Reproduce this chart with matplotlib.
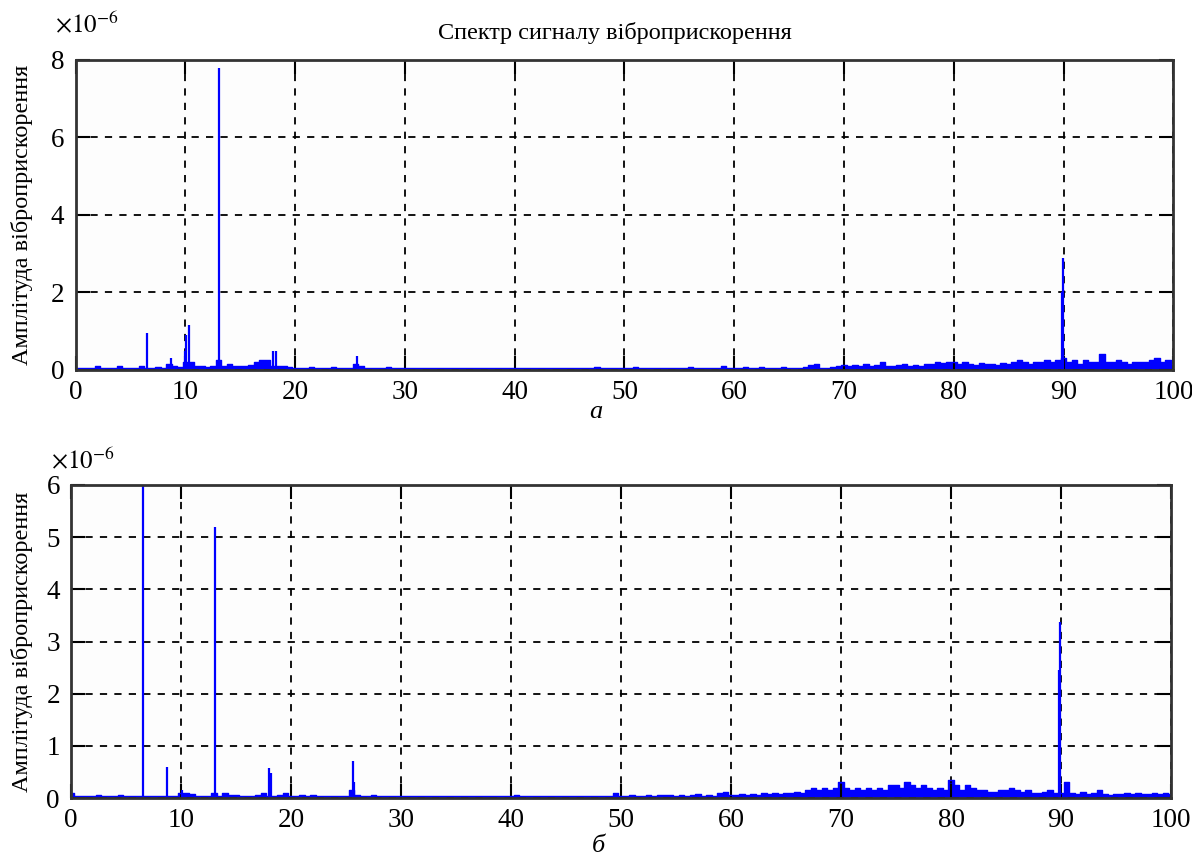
import numpy as np
import matplotlib
matplotlib.use("Agg")
import matplotlib.pyplot as plt

plt.rcParams['font.family'] = ['Liberation Serif', 'DejaVu Serif']
plt.rcParams['mathtext.fontset'] = 'stix'

# ------------------------------------------------------------
# data (amplitude in units of 1e-6), floor sampled every 0.5 Hz
# ------------------------------------------------------------
freq_grid = np.arange(0, 100.01, 0.5)

floor_a = (
    [0.05, 0.05, 0.05, 0.05, 0.1, 0.05, 0.05, 0.05, 0.1, 0.05, 0.05, 0.05]
    + [0.1, 0.05, 0.05, 0.08, 0.05, 0.15, 0.1, 0.08]
    + [0.2, 0.2, 0.1, 0.1, 0.08, 0.1, 0.25, 0.1, 0.15, 0.1]
    + [0.1, 0.1, 0.12, 0.2, 0.25, 0.25, 0.1, 0.1, 0.1, 0.08]
    + [0.05, 0.05, 0.05, 0.08, 0.05, 0.05, 0.05, 0.08, 0.05, 0.05]
    + [0.05, 0.15, 0.1, 0.05, 0.05, 0.05, 0.05, 0.08, 0.05, 0.05]
    + [0.05] * 20
    + [0.05] * 15 + [0.08] + [0.05] * 4
    + [0.05, 0.05, 0.08, 0.05, 0.05, 0.05, 0.05, 0.05, 0.05, 0.05,
       0.05, 0.05, 0.08, 0.05, 0.05, 0.05, 0.05, 0.05, 0.1, 0.05]
    + [0.05, 0.05, 0.08, 0.05, 0.05, 0.08, 0.05, 0.05, 0.05, 0.08,
       0.05, 0.05, 0.05, 0.08, 0.12, 0.15, 0.05, 0.05, 0.08, 0.1]
    + [0.12, 0.1, 0.12, 0.1, 0.15, 0.1, 0.12, 0.2, 0.1, 0.1,
       0.12, 0.15, 0.1, 0.12, 0.1, 0.15, 0.15, 0.2, 0.18, 0.2]
    + [0.2, 0.15, 0.2, 0.15, 0.12, 0.18, 0.15, 0.15, 0.12, 0.18,
       0.15, 0.2, 0.25, 0.2, 0.15, 0.2, 0.2, 0.25, 0.2, 0.25]
    + [0.3, 0.2, 0.25, 0.15, 0.25, 0.2, 0.2, 0.4, 0.2, 0.2, 0.25,
       0.2, 0.15, 0.2, 0.2, 0.2, 0.25, 0.3, 0.2, 0.25, 0.15]
)
peak_f_a = [6.5, 8.7, 10.0, 10.1, 10.35, 13.1, 18.0, 18.3, 25.6, 89.85, 89.95]
peak_v_a = [0.95, 0.3, 0.5, 0.9, 1.15, 7.8, 0.5, 0.5, 0.35, 2.0, 2.9]

floor_b = (
    [0.1, 0.03, 0.03, 0.03, 0.03, 0.05, 0.03, 0.03, 0.03, 0.05,
     0.03, 0.03, 0.03, 0.03, 0.03, 0.03, 0.03, 0.03, 0.03, 0.03]
    + [0.1, 0.1, 0.08, 0.03, 0.03, 0.03, 0.1, 0.03, 0.1, 0.05,
       0.05, 0.03, 0.03, 0.03, 0.05, 0.1, 0.03, 0.03, 0.05, 0.1]
    + [0.03, 0.03, 0.05, 0.03, 0.05, 0.03, 0.03, 0.03, 0.03, 0.03,
       0.03, 0.15, 0.05, 0.03, 0.03, 0.05, 0.03, 0.03, 0.03, 0.03]
    + [0.03] * 20
    + [0.03, 0.05] + [0.03] * 17 + [0.1]
    + [0.03, 0.03, 0.05, 0.03, 0.03, 0.05, 0.03, 0.05, 0.05, 0.05,
       0.03, 0.05, 0.03, 0.05, 0.08, 0.03, 0.05, 0.03, 0.1, 0.12]
    + [0.05, 0.05, 0.08, 0.05, 0.08, 0.05, 0.1, 0.08, 0.1, 0.08,
       0.1, 0.1, 0.12, 0.1, 0.15, 0.2, 0.15, 0.2, 0.15, 0.2]
    + [0.3, 0.2, 0.15, 0.2, 0.15, 0.2, 0.15, 0.2, 0.15, 0.25,
       0.25, 0.2, 0.3, 0.25, 0.2, 0.25, 0.2, 0.15, 0.2, 0.15]
    + [0.35, 0.25, 0.15, 0.25, 0.2, 0.15, 0.15, 0.12, 0.12, 0.15,
       0.15, 0.2, 0.15, 0.12, 0.15, 0.1, 0.1, 0.12, 0.15, 0.1]
    + [0.1, 0.3, 0.1, 0.08, 0.12, 0.08, 0.1, 0.15, 0.08, 0.05, 0.08,
       0.08, 0.1, 0.08, 0.1, 0.08, 0.08, 0.1, 0.08, 0.1, 0.08]
)
peak_f_b = [6.5, 8.7, 10.1, 13.1, 18.0, 18.2, 25.6, 25.75, 89.85, 89.95]
peak_v_b = [6.0, 0.6, 0.15, 5.2, 0.58, 0.48, 0.7, 0.3, 2.45, 3.38]

x_ticks = list(range(0, 101, 10))
y_ticks_a = [0, 2, 4, 6, 8]
y_ticks_b = [0, 1, 2, 3, 4, 5, 6]

title = "Спектр сигналу віброприскорення"
ylab = "Амплітуда віброприскорення"


def draw_panel(ax, floor, pk_f, pk_v, yticks, lab_x):
    ax.fill_between(freq_grid, 0, floor, step='mid', color='blue', lw=0)
    ax.plot(freq_grid, floor, drawstyle='steps-mid', color='blue', lw=1.0)
    ax.vlines(pk_f, 0, pk_v, color='blue', lw=1.6)
    ax.set_xlim(0, 100)
    ax.set_ylim(0, yticks[-1])
    ax.set_xticks(x_ticks)
    ax.set_yticks(yticks)
    ax.grid(True, color='black', linestyle=(0, (4, 4)), lw=1.3)
    ax.tick_params(direction='in', length=10, width=1.5, top=True, right=True,
                   labelsize=19.5, pad=7)
    ax.tick_params(axis='y', pad=8)
    for s in ax.spines.values():
        s.set_color('#333333')
        s.set_linewidth(2)
    ax.set_ylabel(ylab, fontsize=17.5)
    ax.yaxis.set_label_coords(lab_x, 0.5)
    ax.set_facecolor('#fdfdfd')


fig = plt.figure(figsize=(11.92, 8.59), dpi=100)
ax1 = fig.add_axes([0.0634, 0.5693, 0.921, 0.361])
ax2 = fig.add_axes([0.0596, 0.0710, 0.9228, 0.3644])

draw_panel(ax1, floor_a, peak_f_a, peak_v_a, y_ticks_a, -0.039)
draw_panel(ax2, floor_b, peak_f_b, peak_v_b, y_ticks_b, -0.0345)

fig.text(615 / 1192, 1 - 33 / 859, title, ha='center', va='center', fontsize=17.5)
fig.text(55 / 1192, 1 - 24 / 859, r'$\times10^{-6}$', ha='left', va='center', fontsize=18)
fig.text(51 / 1192, 1 - 460 / 859, r'$\times10^{-6}$', ha='left', va='center', fontsize=18)
fig.text(596 / 1192, 1 - 412 / 859, 'а', ha='center', va='center', fontsize=19, style='italic')
fig.text(598 / 1192, 1 - 846 / 859, 'б', ha='center', va='center', fontsize=19, style='italic')

fig.savefig('out.png', dpi=100)
